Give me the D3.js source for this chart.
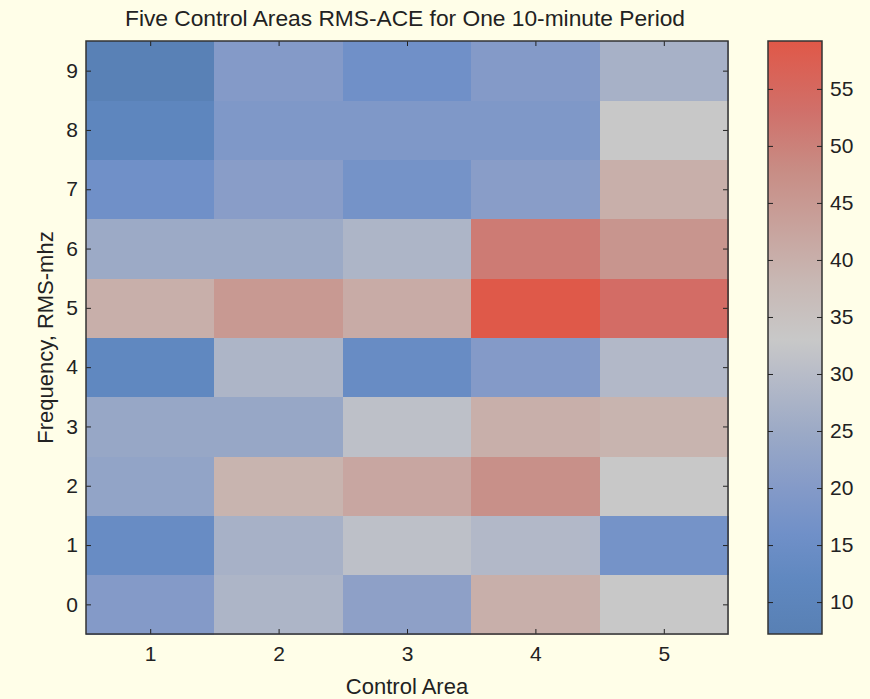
<!DOCTYPE html>
<html>
<head>
<meta charset="utf-8">
<script src="https://cdn.jsdelivr.net/npm/d3@7"></script>
<style>
  body { margin: 0; background: #fffee8; }
  text { font-family: "Liberation Sans", Arial, sans-serif; fill: #222; }
</style>
</head>
<body>
<svg id="chart" width="870" height="699"></svg>
<script>
// control areas along x, frequency bins along y
const areas = [1, 2, 3, 4, 5];
const freqs = [0, 1, 2, 3, 4, 5, 6, 7, 8, 9];

// RMS-ACE values, one row per frequency bin (0..9), one column per area (1..5)
const values = [
  [20, 28, 22, 40, 33],
  [14, 27, 31, 29, 17],
  [23, 39, 42, 47, 33],
  [24, 24, 31, 40, 39],
  [12, 28, 14, 20, 29],
  [40, 45, 41, 59, 54],
  [25, 25, 28, 51, 46],
  [16, 21, 17, 21, 40],
  [11, 19, 19, 19, 33],
  [8, 20, 16, 20, 27],
];

const cbarTicks = [10, 15, 20, 25, 30, 35, 40, 45, 50, 55];
const cbarDomain = [7.2, 59.2];

// colormap stops (value -> colour)
const cmapValues = [7.2, 12, 16, 20, 25, 30, 33, 38, 43, 48, 53, 59.2];
const cmapColors = ["#5880b4", "#6088c0", "#7090c8", "#849ac8", "#9caac6", "#b8bcc8",
  "#c8c8c8", "#c8b8b4", "#c8a29c", "#c88c84", "#d0706a", "#e05848"];

const svg = d3.select("#chart");
const margin = { left: 86, top: 41, right: 728, bottom: 634 };
const fontSize = 21;

const color = d3.scaleLinear().domain(cmapValues).range(cmapColors).clamp(true);
const xScale = d3.scaleLinear().domain([0.5, 5.5]).range([margin.left, margin.right]);
const yScale = d3.scaleLinear().domain([-0.5, 9.5]).range([margin.bottom, margin.top]);

// * cells
const cells = [];
values.forEach((row, i) => row.forEach((v, j) => cells.push({ f: freqs[i], a: areas[j], v })));

svg.append("g")
  .attr("shape-rendering", "crispEdges")
  .selectAll("rect")
  .data(cells)
  .enter()
  .append("rect")
  .attr("x", (d) => xScale(d.a - 0.5))
  .attr("y", (d) => yScale(d.f + 0.5))
  .attr("width", (d) => xScale(d.a + 0.5) - xScale(d.a - 0.5) + 0.5)
  .attr("height", (d) => yScale(d.f - 0.5) - yScale(d.f + 0.5) + 0.5)
  .style("fill", (d) => color(d.v));

// * axes, ticks drawn inward on all sides
const tickLen = 5;
const fmt = d3.format("d");
const axisStyle = (g) => {
  g.select(".domain").remove();
  g.selectAll("line").attr("stroke", "#222");
  g.selectAll("text").style("font-size", `${fontSize}px`).style("font-family", null);
};

svg.append("g")
  .attr("transform", `translate(0,${margin.bottom})`)
  .call(d3.axisBottom(xScale).tickValues(areas).tickFormat(fmt).tickSizeInner(-tickLen).tickSizeOuter(0).tickPadding(12))
  .call(axisStyle);
svg.append("g")
  .attr("transform", `translate(0,${margin.top})`)
  .call(d3.axisTop(xScale).tickValues(areas).tickSizeInner(-tickLen).tickSizeOuter(0).tickFormat(""))
  .call(axisStyle);
svg.append("g")
  .attr("transform", `translate(${margin.left},0)`)
  .call(d3.axisLeft(yScale).tickValues(freqs).tickFormat(fmt).tickSizeInner(-tickLen).tickSizeOuter(0).tickPadding(8))
  .call(axisStyle);
svg.append("g")
  .attr("transform", `translate(${margin.right},0)`)
  .call(d3.axisRight(yScale).tickValues(freqs).tickSizeInner(-tickLen).tickSizeOuter(0).tickFormat(""))
  .call(axisStyle);

svg.append("rect")
  .attr("x", margin.left)
  .attr("y", margin.top)
  .attr("width", margin.right - margin.left)
  .attr("height", margin.bottom - margin.top)
  .style("fill", "none")
  .style("stroke", "#333")
  .style("stroke-width", 1.5);

// * colour bar
const cb = { left: 768, right: 822 };
const cbScale = d3.scaleLinear().domain(cbarDomain).range([margin.bottom, margin.top]);
const defs = svg.append("defs");
const grad = defs.append("linearGradient")
  .attr("id", "cbGrad")
  .attr("x1", 0).attr("y1", 1).attr("x2", 0).attr("y2", 0);
grad.selectAll("stop")
  .data(cmapValues)
  .enter()
  .append("stop")
  .attr("offset", (v) => (v - cbarDomain[0]) / (cbarDomain[1] - cbarDomain[0]))
  .attr("stop-color", (v) => color(v));

svg.append("rect")
  .attr("x", cb.left)
  .attr("y", margin.top)
  .attr("width", cb.right - cb.left)
  .attr("height", margin.bottom - margin.top)
  .style("fill", "url(#cbGrad)")
  .style("stroke", "#333")
  .style("stroke-width", 1.5);

svg.append("g")
  .attr("transform", `translate(${cb.right},0)`)
  .call(d3.axisRight(cbScale).tickValues(cbarTicks).tickSizeInner(-tickLen).tickSizeOuter(0).tickPadding(8))
  .call(axisStyle);
svg.append("g")
  .attr("transform", `translate(${cb.left},0)`)
  .call(d3.axisLeft(cbScale).tickValues(cbarTicks).tickSizeInner(-tickLen).tickSizeOuter(0).tickFormat(""))
  .call(axisStyle);

// * labels
svg.append("text")
  .attr("x", 405)
  .attr("y", 26)
  .attr("text-anchor", "middle")
  .attr("textLength", 560)
  .attr("lengthAdjust", "spacingAndGlyphs")
  .style("font-size", "22px")
  .text("Five Control Areas RMS-ACE for One 10-minute Period");

svg.append("text")
  .attr("x", (margin.left + margin.right) / 2)
  .attr("y", 694)
  .attr("text-anchor", "middle")
  .style("font-size", "22px")
  .text("Control Area");

svg.append("text")
  .attr("transform", `translate(53,${(margin.top + margin.bottom) / 2}) rotate(-90)`)
  .attr("text-anchor", "middle")
  .style("font-size", "22px")
  .text("Frequency, RMS-mhz");
</script>
</body>
</html>
